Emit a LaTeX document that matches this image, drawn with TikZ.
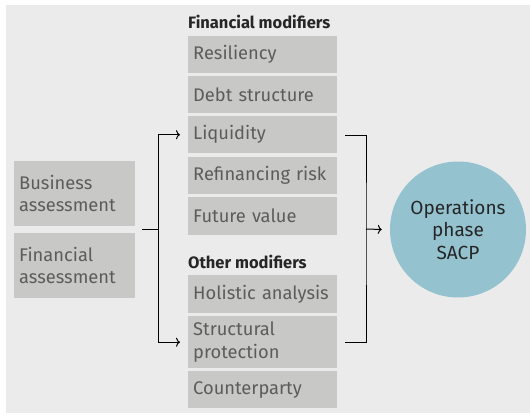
\documentclass[tikz,border=0pt]{standalone}
\usepackage{fontspec}
\setmainfont{Fira Sans}
\usetikzlibrary{arrows.meta}
\definecolor{bgc}{HTML}{EBEBEB}
\definecolor{boxc}{HTML}{C8C8C7}
\definecolor{txtc}{HTML}{5C5C5C}
\definecolor{circc}{HTML}{94C2CF}
\begin{document}
\begin{tikzpicture}[x=1pt,y=-1pt,
  box/.style={fill=boxc,draw=none,minimum width=149pt,text width=139pt,inner xsep=5pt,align=left,anchor=north west,font=\fontsize{18.3}{22.5}\selectfont,text=txtc},
  lbox/.style={fill=boxc,draw=none,minimum width=121pt,text width=111pt,inner xsep=5pt,align=left,anchor=north west,font=\fontsize{18.3}{22.5}\selectfont,text=txtc},
  hdr/.style={anchor=west,inner sep=0pt,font=\fontsize{16.5}{18}\selectfont\bfseries,text=black!85},
  conn/.style={line width=1pt,black},
  arr/.style={conn,-{To[length=4pt,width=9pt]}}]
\useasboundingbox (0,0) rectangle (530,415);
\fill[white] (0,0) rectangle (530,415);
\fill[bgc] (6,5) rectangle (530,413);
% headers
\node[hdr] (hf) at (188,22) {Financial modifiers};
\node[hdr] (ho) at (188,262) {Other modifiers};
% middle boxes
\node[box,minimum height=37pt] (res) at (188,36) {Resiliency};
\node[box,minimum height=37pt] (debt) at (188,76) {Debt structure};
\node[box,minimum height=37pt] (liq) at (188,116) {Liquidity};
\node[box,minimum height=37pt] (ref) at (188,157) {Refinancing risk};
\node[box,minimum height=38pt] (fut) at (188,197) {Future value};
\node[box,minimum height=38pt] (hol) at (188,275) {Holistic analysis};
\node[box,minimum height=52pt] (str) at (188,316) {Structural\\protection};
\node[box,minimum height=37pt] (cpt) at (188,371) {Counterparty};
% left boxes
\node[lbox,minimum height=65pt] (bus) at (14,161) {Business\\assessment};
\node[lbox,minimum height=65pt] (fin) at (14,233) {Financial\\assessment};
% circle
\node[circle,fill=circc,minimum size=136pt,inner sep=0pt,align=center,font=\fontsize{19}{22.5}\selectfont,text=black!85] (sacp) at (458,229.5) {Operations\\phase\\SACP};
% connectors
\coordinate (ls) at (142,229);
\coordinate (lj) at (158,229);
\draw[conn] (ls) -- (lj);
\draw[arr] (lj) |- ([xshift=-8pt]liq.west);
\draw[arr] (lj) |- ([xshift=-8pt]str.west);
\coordinate (r1) at (345,135);
\coordinate (r2) at (345,342);
\coordinate (rj) at (366,229);
\draw[conn] (r1) -| (rj) |- (r2);
\draw[arr] (rj) -- ([xshift=-8pt]sacp.west);
\end{tikzpicture}
\end{document}
